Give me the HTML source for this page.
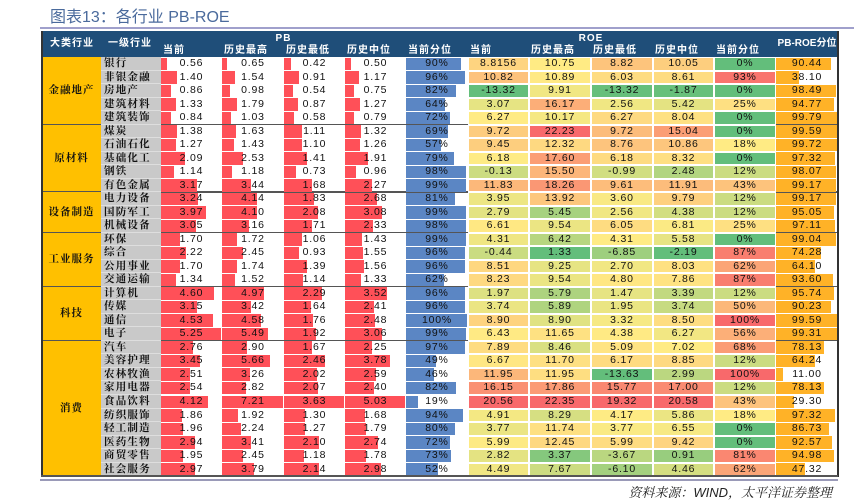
<!DOCTYPE html>
<html><head><meta charset="utf-8">
<style>
body{margin:0;width:854px;height:500px;background:#fff;position:relative;overflow:hidden;font-family:"Liberation Sans","Noto Sans CJK SC",sans-serif;}
.a{position:absolute;box-sizing:border-box;}
.t{position:absolute;font-size:10.5px;letter-spacing:0.8px;color:#111;text-align:center;white-space:nowrap;}
.h{position:absolute;color:#fff;font-weight:bold;font-size:10px;line-height:12px;letter-spacing:1px;white-space:nowrap;font-family:"Liberation Sans","Noto Sans CJK SC",sans-serif;}
</style></head><body>
<div class="a" style="left:50px;top:3px;font-size:16px;color:#4a6a9c;font-family:'Liberation Sans','Noto Sans CJK SC',sans-serif;">图表13：各行业 PB-ROE</div>
<div class="a" style="left:40px;top:27px;width:814px;height:2px;background:#a0a0cc;"></div>
<div class="a" style="left:42px;top:31px;width:796px;height:26px;background:#1f4e79;"></div>
<div id="tbl"></div>
<div class="a" style="left:40px;top:479px;width:798px;height:2px;background:#9a9ab8;"></div>
<div class="a" style="right:22px;top:482px;font-size:13px;font-style:italic;color:#222;font-family:'Liberation Sans','Noto Serif CJK SC',serif;">资料来源：WIND，太平洋证券整理</div>
<script>
const groups=["金融地产","原材料","设备制造","工业服务","科技","消费"];
const groupSizes=[5,5,3,4,4,10];
const industries=["银行","非银金融","房地产","建筑材料","建筑装饰","煤炭","石油石化","基础化工","钢铁","有色金属","电力设备","国防军工","机械设备","环保","综合","公用事业","交通运输","计算机","传媒","通信","电子","汽车","美容护理","农林牧渔","家用电器","食品饮料","纺织服饰","轻工制造","医药生物","商贸零售","社会服务"];
const pbCur=[0.56,1.40,0.86,1.33,0.84,1.38,1.27,2.09,1.14,3.17,3.24,3.97,3.05,1.70,2.22,1.70,1.34,4.60,3.15,4.53,5.25,2.76,3.45,2.51,2.54,4.12,1.86,1.96,2.94,1.95,2.97];
const pbMax=[0.65,1.54,0.98,1.79,1.03,1.63,1.43,2.53,1.18,3.44,4.14,4.10,3.16,1.72,2.45,1.74,1.52,4.97,3.42,4.58,5.49,2.90,5.66,3.26,2.82,7.21,1.92,2.24,3.41,2.45,3.79];
const pbMin=[0.42,0.91,0.54,0.87,0.58,1.11,1.10,1.41,0.73,1.68,1.83,2.08,1.71,1.06,0.93,1.39,1.14,2.29,1.64,1.76,1.92,1.67,2.46,2.02,2.07,3.63,1.30,1.27,2.10,1.18,2.14];
const pbMed=[0.50,1.17,0.75,1.27,0.79,1.32,1.26,1.91,0.96,2.27,2.68,3.08,2.33,1.43,1.55,1.56,1.33,3.52,2.41,2.48,3.06,2.25,3.78,2.59,2.40,5.03,1.68,1.79,2.74,1.78,2.98];
const pbPct=[90,96,82,64,72,69,57,79,98,99,81,99,98,99,96,96,62,96,96,100,99,97,49,46,82,19,94,80,72,73,52];
const roeCur=[8.8156,10.82,-13.32,3.07,6.27,9.72,9.45,6.18,-0.13,11.83,3.95,2.79,6.61,4.31,-0.44,8.51,8.23,1.97,3.74,8.90,6.43,7.89,6.67,11.95,16.15,20.56,4.91,3.77,5.99,2.82,4.49];
const roeMax=[10.75,10.89,9.91,16.17,10.17,22.23,12.32,17.60,15.50,18.26,13.92,5.45,9.54,6.42,1.33,9.25,9.54,5.79,5.89,8.90,11.65,8.46,11.70,11.95,17.86,22.35,8.29,11.74,12.45,3.37,7.67];
const roeMin=[8.82,6.03,-13.32,2.56,6.27,9.72,8.76,6.18,-0.99,9.61,3.60,2.56,6.05,4.31,-6.85,2.70,4.80,1.47,1.95,3.32,4.38,5.09,6.17,-13.63,15.77,19.32,4.17,3.77,5.99,-3.67,-6.10];
const roeMed=[10.05,8.61,-1.87,5.42,8.04,15.04,10.86,8.32,2.48,11.91,9.79,4.38,6.81,5.58,-2.19,8.03,7.86,3.39,3.74,8.50,6.27,7.02,8.85,2.99,17.00,20.58,5.86,6.55,9.42,0.91,4.46];
const roePct=[0,93,0,25,0,0,18,0,12,43,12,12,25,0,87,62,87,12,50,100,56,68,12,100,12,43,18,0,0,81,62];
const pbRoe=[90.44,38.10,98.49,94.77,99.79,99.59,99.72,97.32,98.07,99.17,99.17,95.05,97.11,99.04,74.28,64.10,93.60,95.74,90.23,99.59,99.31,78.13,64.24,11.00,78.13,29.30,97.32,86.73,92.57,94.98,47.32];
const roeLabels=["当前","历史最高","历史最低","历史中位","当前分位"];

const T=document.getElementById('tbl');
const top0=57,rh=13.52;
const cx=[42,101,161,222,284,345,406,468,529,591,653,714,776,838];
function box(x,y,w,h,bg,name){const d=document.createElement('div');d.className='a';d.style.cssText=`left:${x}px;top:${y}px;width:${w}px;height:${h}px;background:${bg};`;


T.appendChild(d);return d;}
function txt(x,y,w,s,name,extra){const d=document.createElement('div');d.className='t';d.style.cssText=`left:${x}px;top:${y}px;width:${w}px;line-height:${rh}px;`+(extra||'');d.textContent=s;


T.appendChild(d);return d;}
function hd(x,y,s,name,w,ls){const d=document.createElement('div');d.className='h';d.style.left=x+'px';d.style.top=y+'px';if(w){d.style.width=w+'px';d.style.textAlign='center';}if(ls!==undefined)d.style.letterSpacing=ls+'px';d.textContent=s;


T.appendChild(d);}
hd(50,38,"大类行业","header-category");
hd(108,38,"一级行业","header-industry");
hd(161,33,"PB","header-pb",245);
hd(468,33,"ROE","header-roe",246);
hd(776,38,"PB-ROE分位","header-pbroe",62,0);
const pbLabels=["当前","历史最高","历史最低","历史中位","当前分位"];
pbLabels.forEach((l,i)=>hd(cx[2+i]+2,45,l,"header-pb-"+i));
roeLabels.forEach((l,i)=>hd(cx[7+i]+2,45,l,"header-roe-"+i));
function lerp(a,b,t){return a.map((v,i)=>Math.round(v+(b[i]-v)*t));}
const G=[99,190,123],Y=[255,235,132],R=[248,105,107];
function scale(arr){const s=[...arr].sort((a,b)=>a-b);const mn=s[0],mx=s[s.length-1];const n=s.length;const med=n%2?s[(n-1)/2]:(s[n/2-1]+s[n/2])/2;
return v=>{let c;if(v<=med)c=lerp(G,Y,med===mn?1:(v-mn)/(med-mn));else c=lerp(Y,R,(v-med)/(mx-med));return `rgb(${c})`;};}
const n=industries.length;
let r=0;
groups.forEach((g,gi)=>{const y=top0+r*rh,h=groupSizes[gi]*rh;
box(cx[0],y,cx[1]-cx[0],h,'#ffc000','group-cell');
txt(cx[0],y+h/2-rh/2,cx[1]-cx[0],g,'group-label',"font-weight:bold;font-size:10.5px;letter-spacing:1px;font-family:'Liberation Serif','Noto Serif CJK SC',serif;");
r+=groupSizes[gi];
if(gi<groups.length-1){box(cx[0],top0+r*rh-1,cx[13]-cx[0],1.5,'#555','group-divider');}
});
function bar(col,vals,max,fmt,color,name){const w=cx[col+1]-cx[col];vals.forEach((v,i)=>{const y=top0+i*rh;
box(cx[col],y+0.5,Math.max(0,v/max*(w-1)),rh-1,color,name+'-bar');
txt(cx[col],y,w,fmt(v),name+'-value');});}
const f2=v=>v.toFixed(2);
industries.forEach((s,i)=>{const y=top0+i*rh;box(cx[1],y,cx[2]-cx[1],rh,'#c9c9c9','industry-cell').style.borderBottom='1px solid #dedede';
txt(cx[1]+3,y,56,s,'industry-label',"text-align:left;font-weight:bold;font-size:10.5px;letter-spacing:1.2px;font-family:'Liberation Serif','Noto Serif CJK SC',serif;");});
bar(2,pbCur,Math.max(...pbCur),f2,'#ff5058','pb-current');
bar(3,pbMax,Math.max(...pbMax),f2,'#ff5058','pb-max');
bar(4,pbMin,Math.max(...pbMin),f2,'#ff5058','pb-min');
bar(5,pbMed,Math.max(...pbMed),f2,'#ff5058','pb-median');
bar(6,pbPct,100,v=>v+'%','#5b86c4','pb-percentile');
const roeCols=[[roeCur,v=>v===8.8156?'8.8156':f2(v)],[roeMax,f2],[roeMin,f2],[roeMed,f2],[roePct,v=>v+'%']];
roeCols.forEach(([arr,fmt],k)=>{const sc=scale(arr);const col=7+k;const w=cx[col+1]-cx[col];
arr.forEach((v,i)=>{const y=top0+i*rh;const b=box(cx[col],y,w,rh,sc(v),'roe-cell');b.style.border='0.5px solid #fff';txt(cx[col],y,w,fmt(v),'roe-value');});});
bar(12,pbRoe,100,f2,'#ffb227','pbroe-percentile');
box(41,31,2,446,'#333','table-left-border');
box(837,31,1.5,446,'#333','table-right-border');
box(41,top0+n*rh-1,797,1.5,'#555','table-bottom-border');
</script>
</body></html>
